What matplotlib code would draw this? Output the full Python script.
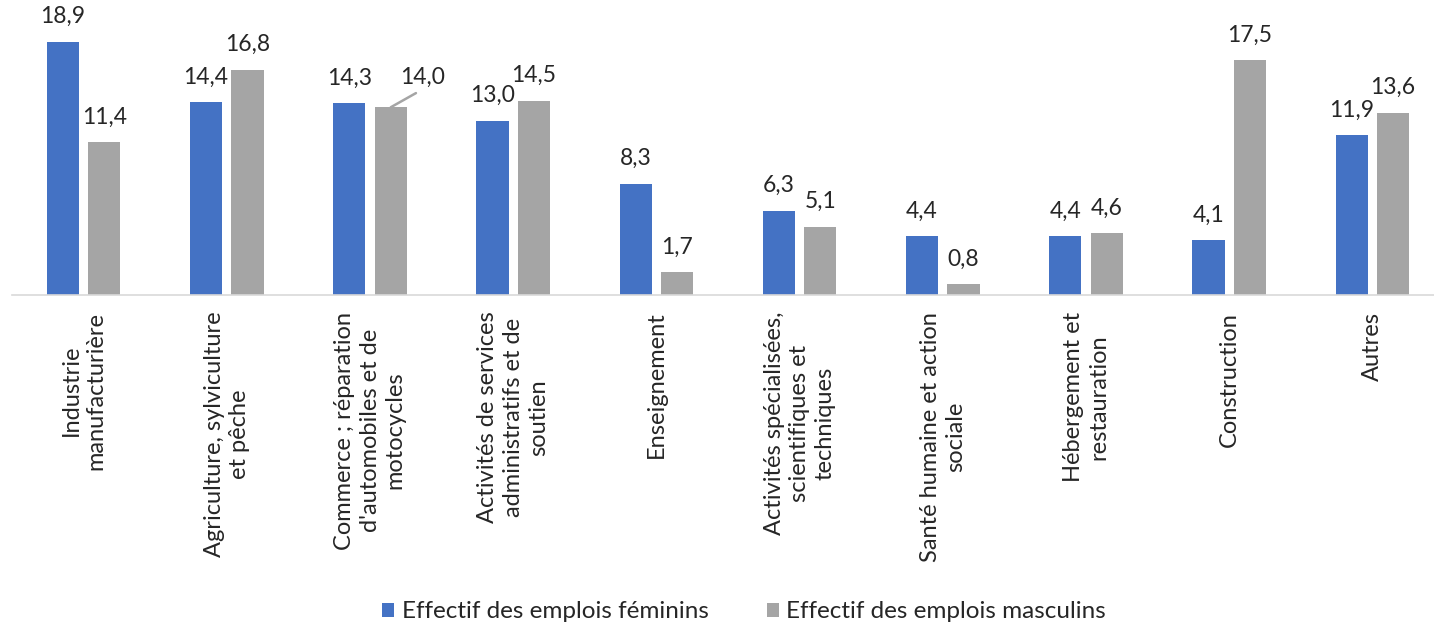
import matplotlib
matplotlib.use("Agg")
import matplotlib.pyplot as plt
import numpy as np

categories = [
    "Industrie\nmanufacturière",
    "Agriculture, sylviculture\net pêche",
    "Commerce ; réparation\nd'automobiles et de\nmotocycles",
    "Activités de services\nadministratifs et de\nsoutien",
    "Enseignement",
    "Activités spécialisées,\nscientifiques et\ntechniques",
    "Santé humaine et action\nsociale",
    "Hébergement et\nrestauration",
    "Construction",
    "Autres",
]
feminins = [18.9, 14.4, 14.3, 13.0, 8.3, 6.3, 4.4, 4.4, 4.1, 11.9]
masculins = [11.4, 16.8, 14.0, 14.5, 1.7, 5.1, 0.8, 4.6, 17.5, 13.6]
series_names = ["Effectif des emplois féminins", "Effectif des emplois masculins"]

BLUE = "#4472C4"
GREY = "#A5A5A5"
TEXT = "#262626"

plt.rcParams["font.family"] = ["Lato", "DejaVu Sans"]

fig = plt.figure(figsize=(14.34, 6.29), dpi=100)
ax = fig.add_axes([12 / 1434, 1 - 295 / 629, 1432 / 1434, 295 / 629])

x = np.arange(len(categories))
w = 0.225
off = 0.145
b1 = ax.bar(x - off, feminins, w, color=BLUE, label=series_names[0])
b2 = ax.bar(x + off, masculins, w, color=GREY, label=series_names[1])

ax.set_xlim(-0.5, len(categories) - 0.5)
ax.set_ylim(0, 22.0)

def fmt(v):
    return f"{v:.1f}".replace(".", ",")

VAL_FS = 16.5
for bars, vals, callout in ((b1, feminins, None), (b2, masculins, 2)):
    for i, (r, v) in enumerate(zip(bars, vals)):
        cx = r.get_x() + r.get_width() / 2
        if i == callout:
            # label moved aside, joined to its bar by a leader line
            ax.annotate(fmt(v), xy=(cx, v), xytext=(cx + 0.22, v + 2.2),
                        ha="center", va="center", fontsize=VAL_FS, color=TEXT,
                        arrowprops=dict(arrowstyle="-", color=GREY, lw=1.8,
                                        relpos=(0.55, 0.0), shrinkA=3, shrinkB=0))
            continue
        ax.annotate(fmt(v), xy=(cx, v), xytext=(0, 18), textcoords="offset points",
                    ha="center", va="center", fontsize=VAL_FS, color=TEXT)

for s in ("top", "right", "left"):
    ax.spines[s].set_visible(False)
ax.spines["bottom"].set_color("#D9D9D9")
ax.spines["bottom"].set_linewidth(1.2)
ax.set_yticks([])
ax.set_xticks(x)
ax.set_xticklabels(categories, rotation=90, ha="center", va="top",
                   multialignment="center", fontsize=17, color=TEXT,
                   linespacing=1.25)
ax.tick_params(axis="x", length=0, pad=12)

fig.legend(handles=[b1, b2], labels=series_names, loc="center",
           bbox_to_anchor=(744 / 1434, 1 - 612 / 629), ncol=2, frameon=False,
           fontsize=17.5, handlelength=0.5, handleheight=0.5, handletextpad=0.3,
           columnspacing=2.4, labelcolor=TEXT)

fig.savefig("out.png", dpi=100)
